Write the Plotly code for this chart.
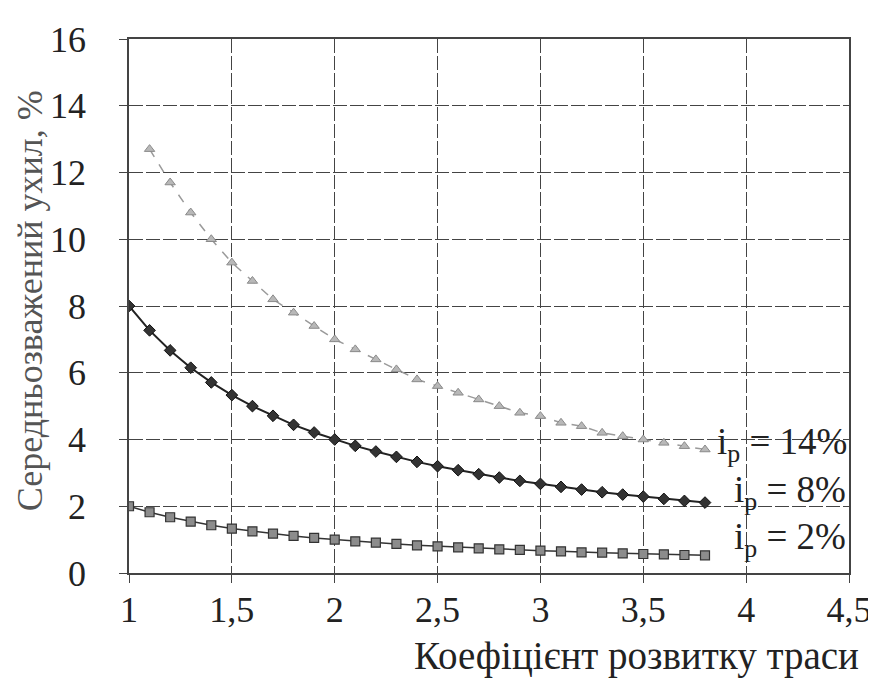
import plotly.graph_objects as go

x_all = [1.0, 1.1, 1.2, 1.3, 1.4, 1.5, 1.6, 1.7, 1.8, 1.9, 2.0, 2.1, 2.2, 2.3, 2.4,
         2.5, 2.6, 2.7, 2.8, 2.9, 3.0, 3.1, 3.2, 3.3, 3.4, 3.5, 3.6, 3.7, 3.8]
x_14 = x_all[1:]
y_14 = [12.7, 11.7, 10.8, 10.0, 9.3, 8.75, 8.2, 7.8, 7.4, 7.0, 6.7, 6.4, 6.1, 5.8,
        5.6, 5.4, 5.2, 5.0, 4.8, 4.7, 4.5, 4.4, 4.2, 4.1, 4.0, 3.9, 3.8, 3.7]
y_8 = [8.0, 7.27, 6.67, 6.15, 5.71, 5.33, 5.0, 4.71, 4.44, 4.21, 4.0, 3.81, 3.64, 3.48,
       3.33, 3.2, 3.08, 2.96, 2.86, 2.76, 2.67, 2.58, 2.5, 2.42, 2.35, 2.29, 2.22, 2.16, 2.11]
y_2 = [2.0, 1.82, 1.67, 1.54, 1.43, 1.33, 1.25, 1.18, 1.11, 1.05, 1.0, 0.95, 0.91, 0.87,
       0.83, 0.8, 0.77, 0.74, 0.71, 0.69, 0.67, 0.65, 0.62, 0.61, 0.59, 0.57, 0.56, 0.54, 0.53]

labels = ["i<sub>p</sub> = 14%", "i<sub>p</sub> = 8%", "i<sub>p</sub> = 2%"]
label_y = [3.85, 2.4, 1.0]
label_x = [3.85, 3.93, 3.93]

x_ticks = [1, 1.5, 2, 2.5, 3, 3.5, 4, 4.5]
x_ticktext = ["1", "1,5", "2", "2,5", "3", "3,5", "4", "4,5"]
y_ticks = [0, 2, 4, 6, 8, 10, 12, 14, 16]

SERIF = "Liberation Serif"
FS = 36

fig = go.Figure()
fig.add_trace(go.Scatter(x=x_14, y=y_14, mode="lines+markers",
                         line=dict(color="#9a9a9a", width=1.5, dash="dash"),
                         marker=dict(symbol="triangle-up", size=9, color="#b8b8b8",
                                     line=dict(color="#8a8a8a", width=1))))
fig.add_trace(go.Scatter(x=x_all, y=y_8, mode="lines+markers",
                         line=dict(color="#222222", width=2),
                         marker=dict(symbol="diamond", size=9, color="#333333",
                                     line=dict(color="#111111", width=1))))
fig.add_trace(go.Scatter(x=x_all, y=y_2, mode="lines+markers",
                         line=dict(color="#333333", width=1.5),
                         marker=dict(symbol="square", size=9, color="#8c8c8c",
                                     line=dict(color="#333333", width=1.2))))

for t, xv, yv in zip(labels, label_x, label_y):
    fig.add_annotation(x=xv, y=yv, text=t, showarrow=False, xanchor="left",
                       yanchor="middle", font=dict(family=SERIF, size=37, color="#222"))

fig.add_annotation(xref="paper", yref="paper", x=1.017, y=-0.11, text="Коефіцієнт розвитку траси",
                   showarrow=False, xanchor="right", yanchor="top",
                   font=dict(family=SERIF, size=39, color="#222"))
fig.add_annotation(xref="paper", yref="paper", x=-0.138, y=0.51, text="Середньозважений ухил, %",
                   showarrow=False, textangle=-90, xanchor="center", yanchor="middle",
                   font=dict(family=SERIF, size=36, color="#555"))

fig.update_layout(
    width=876, height=680,
    margin=dict(l=121, r=28, t=28, b=115),
    paper_bgcolor="white", plot_bgcolor="white",
    showlegend=False,
    font=dict(family=SERIF, size=FS, color="#222"),
)
fig.update_xaxes(range=[1, 4.5], tickvals=x_ticks, ticktext=x_ticktext,
                 showgrid=True, gridcolor="#444", gridwidth=1.2, griddash="14px,3px",
                 showline=True, linecolor="#444", linewidth=1.5, mirror=True,
                 ticks="outside", ticklen=8, tickcolor="#444",
                 ticklabelstandoff=-4, zeroline=False)
fig.update_yaxes(range=[0, 16], tickvals=y_ticks,
                 showgrid=True, gridcolor="#444", gridwidth=1.2, griddash="14px,3px",
                 showline=True, linecolor="#444", linewidth=1.5, mirror=True,
                 ticks="outside", ticklen=8, tickcolor="#444",
                 ticklabelstandoff=26, zeroline=False)

fig.write_html("out.html")
